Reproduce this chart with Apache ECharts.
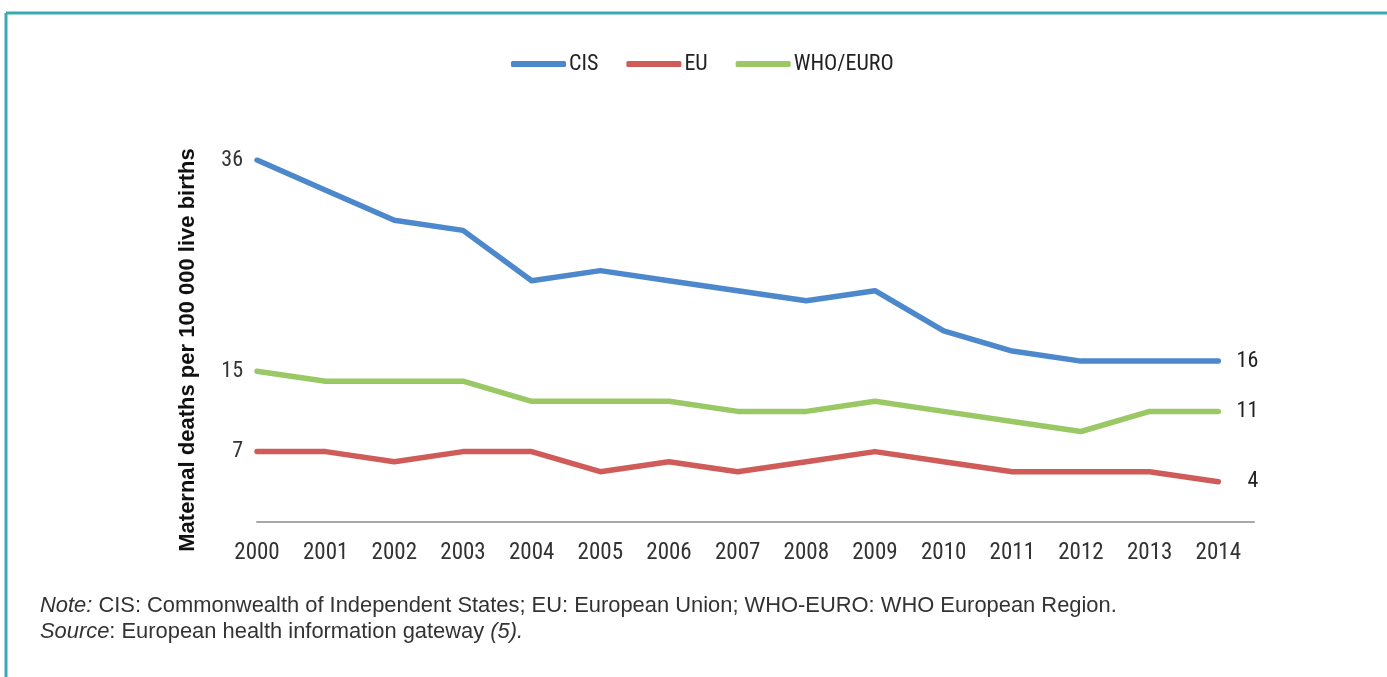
<!DOCTYPE html>
<html>
<head>
<meta charset="utf-8">
<script src="https://cdn.jsdelivr.net/npm/echarts@6/dist/echarts.min.js"></script>
<style>
html,body{margin:0;padding:0;background:#fff;}
#chart{width:1387px;height:677px;}
</style>
</head>
<body>
<div id="chart"></div>
<script>
const years = [2000, 2001, 2002, 2003, 2004, 2005, 2006, 2007, 2008, 2009, 2010, 2011, 2012, 2013, 2014];
const cis = [36, 33, 30, 29, 24, 25, 24, 23, 22, 23, 19, 17, 16, 16, 16];
const eu = [7, 7, 6, 7, 7, 5, 6, 5, 6, 7, 6, 5, 5, 5, 4];
const whoEuro = [15, 14, 14, 14, 12, 12, 12, 11, 11, 12, 11, 10, 9, 11, 11];
const yTickLabels = [7, 15, 36];
const seriesNames = ['CIS', 'EU', 'WHO/EURO'];
const yAxisTitle = 'Maternal deaths per 100 000 live births';
const noteLine = ' CIS: Commonwealth of Independent States; EU: European Union; WHO-EURO: WHO European Region.';
const sourceLine = ': European health information gateway ';

const FONT = "'Roboto Condensed', 'Liberation Sans Narrow', 'Liberation Sans', sans-serif";
const NOTEFONT = "'Liberation Sans', Arial, sans-serif";
const colors = ['#4d88cc', '#cf5c58', '#99c865'];

function pairs(vals) { return years.map((y, i) => [y, vals[i]]); }

const chart = echarts.init(document.getElementById('chart'));
const mk = (name, vals, color) => ({
  name: name,
  type: 'line',
  data: pairs(vals),
  symbol: 'none',
  color: color,
  lineStyle: { width: 5.5, color: color, cap: 'round', join: 'round' },
  endLabel: {
    show: true,
    distance: 14,
    formatter: p => '{a|' + p.value[1] + '}',
    rich: { a: { width: 26, align: 'right', fontSize: 22, fontFamily: FONT, color: '#222' } }
  },
  emphasis: { disabled: true }
});

chart.setOption({
  animation: false,
  color: colors,
  grid: { left: 257, right: 133, top: 160, bottom: 155, containLabel: false },
  legend: {
    data: seriesNames,
    top: 48,
    left: 506,
    icon: 'roundRect',
    itemWidth: 55,
    itemHeight: 6,
    itemGap: 28,
    textStyle: { fontSize: 22, fontFamily: FONT, color: '#222', padding: [0,0,0,-2] }
  },
  xAxis: {
    type: 'value',
    min: 2000,
    max: 2014.52,
    interval: 1,
    axisLine: { show: true, lineStyle: { color: '#a8a8a8', width: 2 } },
    axisTick: { show: false },
    splitLine: { show: false },
    axisLabel: {
      fontSize: 23, fontFamily: FONT, color: '#333', margin: 20,
      showMaxLabel: false,
      formatter: v => (Number.isInteger(v) && years.indexOf(v) >= 0) ? String(v) : ''
    }
  },
  yAxis: {
    type: 'value',
    min: 0,
    max: 36,
    interval: 1,
    axisLine: { show: false },
    axisTick: { show: false },
    splitLine: { show: false },
    axisLabel: {
      fontSize: 22, fontFamily: FONT, color: '#333', margin: 14,
      padding: [0, 0, 6, 0],
      formatter: v => yTickLabels.indexOf(v) >= 0 ? String(v) : ''
    }
  },
  series: [
    mk(seriesNames[0], cis, colors[0]),
    mk(seriesNames[1], eu, colors[1]),
    mk(seriesNames[2], whoEuro, colors[2])
  ],
  graphic: [
    { type: 'line', shape: { x1: 6, y1: 13, x2: 1387, y2: 13 }, style: { stroke: '#3aaab2', lineWidth: 3 } },
    { type: 'line', shape: { x1: 6, y1: 13, x2: 6, y2: 677 }, style: { stroke: '#3aaab2', lineWidth: 3 } },
    {
      type: 'text', x: 188, y: 350, rotation: Math.PI / 2,
      style: { text: yAxisTitle, fontSize: 22, fontWeight: 'bold', fontFamily: "'Liberation Sans', Arial, sans-serif", fill: '#111', align: 'center', verticalAlign: 'middle' }
    },
    {
      type: 'text', x: 40, y: 606,
      style: {
        text: '{i|Note:}{n|' + noteLine + '}',
        verticalAlign: 'middle',
        rich: {
          i: { fontStyle: 'italic', fontSize: 21.9, fontFamily: NOTEFONT, fill: '#333' },
          n: { fontSize: 21.9, fontFamily: NOTEFONT, fill: '#333' }
        }
      }
    },
    {
      type: 'text', x: 40, y: 632,
      style: {
        text: '{i|Source}{n|' + sourceLine + '}{i|(5).}',
        verticalAlign: 'middle',
        rich: {
          i: { fontStyle: 'italic', fontSize: 21.9, fontFamily: NOTEFONT, fill: '#333' },
          n: { fontSize: 21.9, fontFamily: NOTEFONT, fill: '#333' }
        }
      }
    }
  ]
});
</script>
</body>
</html>
